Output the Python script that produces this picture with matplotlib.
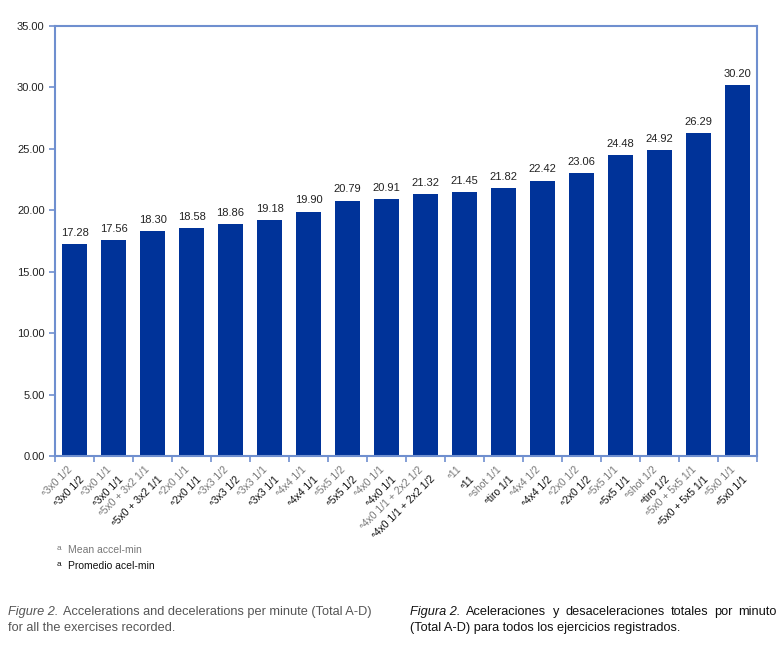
import matplotlib
matplotlib.use("Agg")
import matplotlib.pyplot as plt
import numpy as np
from matplotlib.transforms import offset_copy

plt.rcParams['font.family'] = ['Liberation Sans', 'DejaVu Sans']

labels_en = ["3x0 1/2", "3x0 1/1", "5x0 + 3x2 1/1", "2x0 1/1", "3x3 1/2", "3x3 1/1",
             "4x4 1/1", "5x5 1/2", "4x0 1/1", "4x0 1/1 + 2x2 1/2", "11", "shot 1/1",
             "4x4 1/2", "2x0 1/2", "5x5 1/1", "shot 1/2", "5x0 + 5x5 1/1", "5x0 1/1"]
labels_es = ["3x0 1/2", "3x0 1/1", "5x0 + 3x2 1/1", "2x0 1/1", "3x3 1/2", "3x3 1/1",
             "4x4 1/1", "5x5 1/2", "4x0 1/1", "4x0 1/1 + 2x2 1/2", "11", "tiro 1/1",
             "4x4 1/2", "2x0 1/2", "5x5 1/1", "tiro 1/2", "5x0 + 5x5 1/1", "5x0 1/1"]
values = [17.28, 17.56, 18.30, 18.58, 18.86, 19.18, 19.90, 20.79, 20.91, 21.32,
          21.45, 21.82, 22.42, 23.06, 24.48, 24.92, 26.29, 30.20]

bar_color = "#003399"
axis_color = "#6f8fcf"

fig = plt.figure(figsize=(7.84, 6.54), dpi=100)
ax = fig.add_axes([0.0702, 0.3028, 0.8954, 0.6574])

x = np.arange(len(values))
ax.bar(x, values, width=0.62, color=bar_color)
for xi, v in zip(x, values):
    ax.text(xi, v + 0.5, f"{v:.2f}", ha='center', va='bottom', fontsize=8, color='#222222')

ax.set_xlim(-0.5, len(values) - 0.5)
ax.set_ylim(0, 35)
ax.set_yticks(np.arange(0, 36, 5))
ax.set_yticklabels([f"{t:.2f}" for t in np.arange(0, 36, 5)], fontsize=8, color='#222222')
ax.set_xticks(np.arange(-0.5, len(values)))
ax.set_xticklabels([])
ax.tick_params(axis='both', colors=axis_color, length=4, width=1.2)
ax.tick_params(axis='y', labelcolor='#222222')
for s in ax.spines.values():
    s.set_color(axis_color)
    s.set_linewidth(1.5)

# two-language tick labels
for xi, en, es in zip(x, labels_en, labels_es):
    t1 = offset_copy(ax.get_xaxis_transform(), fig=fig, x=-5.5, y=-6, units='points')
    ax.text(xi, 0, "\u1d43" + en, transform=t1, rotation=45, rotation_mode='anchor',
            ha='right', va='top', fontsize=7.5, color='#777777')
    t2 = offset_copy(ax.get_xaxis_transform(), fig=fig, x=3.5, y=-13, units='points')
    ax.text(xi, 0, "\u1d43" + es, transform=t2, rotation=45, rotation_mode='anchor',
            ha='right', va='top', fontsize=7.5, color='#111111')

# legend
fig.text(57 / 784, 1 - 549 / 654, "a", fontsize=6, color='#777777', va='center')
fig.text(68 / 784, 1 - 550 / 654, "Mean accel-min", fontsize=7.5, color='#777777', va='center')
fig.text(57 / 784, 1 - 565 / 654, "a", fontsize=6, color='#111111', va='center')
fig.text(68 / 784, 1 - 566 / 654, "Promedio acel-min", fontsize=7.5, color='#111111', va='center')


def justified(words, x0, x1, y, color, styles):
    # place words so the line fills x0..x1 (pixels)
    r = fig.canvas.get_renderer()
    items = []
    for w, st in zip(words, styles):
        t = fig.text(0, 1 - y / 654, w, fontsize=9.2, style=st, color=color, va='center')
        items.append((t, t.get_window_extent(r).width))
    total = sum(wd for _, wd in items)
    gap = (x1 - x0 - total) / (len(items) - 1)
    pos = x0
    for t, wd in items:
        t.set_x(pos / 784)
        pos += wd + gap


cap = '#555555'
fig.text(8 / 784, 1 - 612 / 654, "Figure 2.", fontsize=9.2, style='italic', color=cap, va='center')
fig.text(63 / 784, 1 - 612 / 654, "Accelerations and decelerations per minute (Total A-D)",
         fontsize=9.2, color=cap, va='center')
fig.text(8 / 784, 1 - 628 / 654, "for all the exercises recorded.", fontsize=9.2, color=cap, va='center')

es_words = "Figura 2. Aceleraciones y desaceleraciones totales por minuto".split(" ")
es_styles = ['italic', 'italic'] + ['normal'] * (len(es_words) - 2)
# keep "Figura 2." together
es_words = ["Figura 2."] + es_words[2:]
es_styles = ['italic'] + es_styles[2:]
justified(es_words, 410, 777, 612, '#111111', es_styles)
fig.text(410 / 784, 1 - 628 / 654, "(Total A-D) para todos los ejercicios registrados.",
         fontsize=9.2, color='#111111', va='center')

fig.savefig("out.png", dpi=100)
